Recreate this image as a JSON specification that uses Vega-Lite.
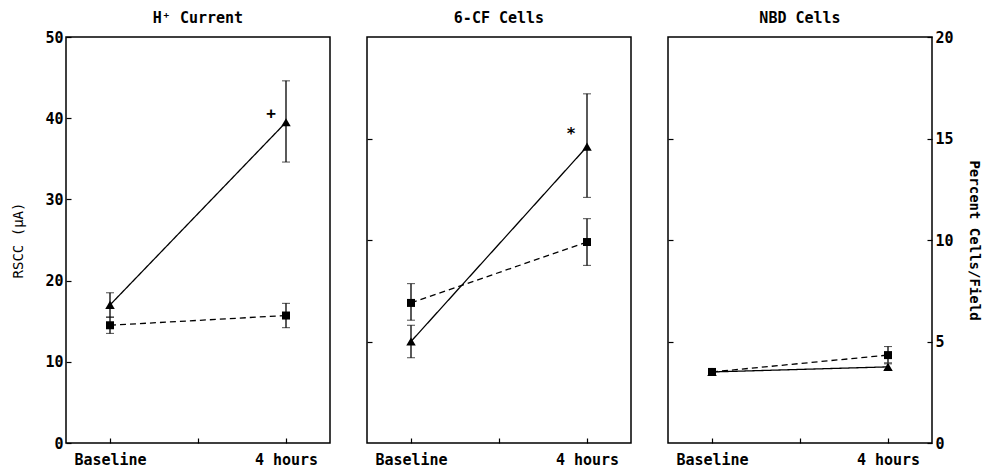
{
  "$schema": "https://vega.github.io/schema/vega-lite/v6.json",
  "background": "white",
  "padding": {"left": 11, "top": 10, "right": 6, "bottom": 5},
  "spacing": 34,
  "datasets": {
    "pts": [
      {"panel": "H", "series": "tri", "time": "Baseline", "mean": 17.0, "lo": 15.5, "hi": 18.5},
      {"panel": "H", "series": "tri", "time": "4 hours", "mean": 39.5, "lo": 34.6, "hi": 44.6},
      {"panel": "H", "series": "sq", "time": "Baseline", "mean": 14.5, "lo": 13.5, "hi": 15.5},
      {"panel": "H", "series": "sq", "time": "4 hours", "mean": 15.7, "lo": 14.2, "hi": 17.2},
      {"panel": "CF", "series": "tri", "time": "Baseline", "mean": 5.0, "lo": 4.2, "hi": 5.8},
      {"panel": "CF", "series": "tri", "time": "4 hours", "mean": 14.6, "lo": 12.1, "hi": 17.2},
      {"panel": "CF", "series": "sq", "time": "Baseline", "mean": 6.9, "lo": 6.05, "hi": 7.85},
      {"panel": "CF", "series": "sq", "time": "4 hours", "mean": 9.9, "lo": 8.75, "hi": 11.05},
      {"panel": "NBD", "series": "tri", "time": "Baseline", "mean": 3.5, "lo": 3.45, "hi": 3.55},
      {"panel": "NBD", "series": "tri", "time": "4 hours", "mean": 3.75, "lo": 3.6, "hi": 3.9},
      {"panel": "NBD", "series": "sq", "time": "Baseline", "mean": 3.5, "lo": 3.45, "hi": 3.55},
      {"panel": "NBD", "series": "sq", "time": "4 hours", "mean": 4.33, "lo": 3.95, "hi": 4.75}
    ],
    "notes": [
      {"panel": "H", "time": "4 hours", "value": 40.5, "label": "+"},
      {"panel": "CF", "time": "4 hours", "value": 15.2, "label": "*"}
    ]
  },
  "hconcat": [
    {
      "width": 264,
      "height": 406,
      "title": {"text": "H⁺ Current", "offset": 4},
      "layer": [
        {
          "data": {"name": "pts"},
          "transform": [{"filter": "datum.panel === 'H'"}],
          "mark": {"type": "line", "color": "black", "strokeWidth": 1.3},
          "encoding": {
            "x": {"field": "time", "type": "ordinal", "title": null, "scale": {"type": "point", "domain": ["Baseline", "mid", "4 hours"], "padding": 0.5},
                  "axis": {"labelAngle": 0, "labelExpr": "datum.value === 'mid' ? '' : datum.value", "labelPadding": 14}},
            "y": {"field": "mean", "type": "quantitative", "title": "RSCC (µA)", "scale": {"domain": [0, 50], "nice": false},
                  "axis": {"values": [0, 10, 20, 30, 40, 50], "labelPadding": 8, "titlePadding": 19, "titleFontSize": 14, "titleFontWeight": "normal"}},
            "strokeDash": {"field": "series", "type": "nominal", "scale": {"domain": ["tri", "sq"], "range": [[1, 0], [6, 4]]}, "legend": null}
          }
        },
        {
          "data": {"name": "pts"},
          "transform": [{"filter": "datum.panel === 'H'"}],
          "mark": {"type": "errorbar", "color": "black", "ticks": {"size": 8, "color": "black", "strokeWidth": 1.3}, "rule": {"strokeWidth": 1.3}},
          "encoding": {
            "x": {"field": "time", "type": "ordinal", "title": null},
            "y": {"field": "lo", "type": "quantitative", "title": "RSCC (µA)"},
            "y2": {"field": "hi"},
            "detail": {"field": "series"}
          }
        },
        {
          "data": {"name": "pts"},
          "transform": [{"filter": "datum.panel === 'H'"}],
          "mark": {"type": "point", "filled": true, "color": "black", "opacity": 1},
          "encoding": {
            "x": {"field": "time", "type": "ordinal", "title": null},
            "y": {"field": "mean", "type": "quantitative", "title": "RSCC (µA)"},
            "shape": {"field": "series", "type": "nominal", "scale": {"domain": ["tri", "sq"], "range": ["triangle-up", "square"]}, "legend": null},
            "size": {"field": "series", "type": "nominal", "scale": {"domain": ["tri", "sq"], "range": [90, 64]}, "legend": null}
          }
        },
        {
          "data": {"name": "notes"},
          "transform": [{"filter": "datum.panel === 'H'"}],
          "mark": {"type": "text", "dx": -15, "font": "DejaVu Sans Mono", "fontSize": 16, "fontWeight": "bold", "color": "black"},
          "encoding": {
            "x": {"field": "time", "type": "ordinal", "title": null},
            "y": {"field": "value", "type": "quantitative", "title": "RSCC (µA)"},
            "text": {"field": "label"}
          }
        }
      ]
    },
    {
      "width": 264,
      "height": 406,
      "title": {"text": "6-CF Cells", "offset": 11},
      "layer": [
        {
          "data": {"name": "pts"},
          "transform": [{"filter": "datum.panel === 'CF'"}],
          "mark": {"type": "line", "color": "black", "strokeWidth": 1.3},
          "encoding": {
            "x": {"field": "time", "type": "ordinal", "title": null, "scale": {"type": "point", "domain": ["Baseline", "mid", "4 hours"], "padding": 0.5},
                  "axis": {"labelAngle": 0, "labelExpr": "datum.value === 'mid' ? '' : datum.value", "labelPadding": 14}},
            "y": {"field": "mean", "type": "quantitative", "title": null, "scale": {"domain": [0, 20], "nice": false},
                  "axis": {"values": [5, 10, 15], "labels": false}},
            "strokeDash": {"field": "series", "type": "nominal", "scale": {"domain": ["tri", "sq"], "range": [[1, 0], [6, 4]]}, "legend": null}
          }
        },
        {
          "data": {"name": "pts"},
          "transform": [{"filter": "datum.panel === 'CF'"}],
          "mark": {"type": "errorbar", "color": "black", "ticks": {"size": 8, "color": "black", "strokeWidth": 1.3}, "rule": {"strokeWidth": 1.3}},
          "encoding": {
            "x": {"field": "time", "type": "ordinal", "title": null},
            "y": {"field": "lo", "type": "quantitative", "title": null},
            "y2": {"field": "hi"},
            "detail": {"field": "series"}
          }
        },
        {
          "data": {"name": "pts"},
          "transform": [{"filter": "datum.panel === 'CF'"}],
          "mark": {"type": "point", "filled": true, "color": "black", "opacity": 1},
          "encoding": {
            "x": {"field": "time", "type": "ordinal", "title": null},
            "y": {"field": "mean", "type": "quantitative", "title": null},
            "shape": {"field": "series", "type": "nominal", "scale": {"domain": ["tri", "sq"], "range": ["triangle-up", "square"]}, "legend": null},
            "size": {"field": "series", "type": "nominal", "scale": {"domain": ["tri", "sq"], "range": [90, 64]}, "legend": null}
          }
        },
        {
          "data": {"name": "notes"},
          "transform": [{"filter": "datum.panel === 'CF'"}],
          "mark": {"type": "text", "dx": -16, "font": "DejaVu Sans Mono", "fontSize": 16, "fontWeight": "bold", "color": "black"},
          "encoding": {
            "x": {"field": "time", "type": "ordinal", "title": null},
            "y": {"field": "value", "type": "quantitative", "title": null},
            "text": {"field": "label"}
          }
        }
      ]
    },
    {
      "width": 264,
      "height": 406,
      "title": {"text": "NBD Cells", "offset": 4},
      "resolve": {"axis": {"y": "independent"}},
      "layer": [
        {
          "layer": [
            {
              "data": {"name": "pts"},
              "transform": [{"filter": "datum.panel === 'NBD'"}],
              "mark": {"type": "line", "color": "black", "strokeWidth": 1.3},
              "encoding": {
                "x": {"field": "time", "type": "ordinal", "title": null, "scale": {"type": "point", "domain": ["Baseline", "mid", "4 hours"], "padding": 0.5},
                      "axis": {"labelAngle": 0, "labelExpr": "datum.value === 'mid' ? '' : datum.value", "labelPadding": 14}},
                "y": {"field": "mean", "type": "quantitative", "title": null, "scale": {"domain": [0, 20], "nice": false},
                      "axis": {"orient": "left", "values": [5, 10, 15], "labels": false}},
                "strokeDash": {"field": "series", "type": "nominal", "scale": {"domain": ["tri", "sq"], "range": [[1, 0], [6, 4]]}, "legend": null}
              }
            },
            {
              "data": {"name": "pts"},
              "transform": [{"filter": "datum.panel === 'NBD'"}],
              "mark": {"type": "errorbar", "color": "black", "ticks": {"size": 8, "color": "black", "strokeWidth": 1.3}, "rule": {"strokeWidth": 1.3}},
              "encoding": {
                "x": {"field": "time", "type": "ordinal", "title": null},
                "y": {"field": "lo", "type": "quantitative", "title": null},
                "y2": {"field": "hi"},
                "detail": {"field": "series"}
              }
            }
          ]
        },
        {
          "data": {"name": "pts"},
          "transform": [{"filter": "datum.panel === 'NBD'"}],
          "mark": {"type": "point", "filled": true, "color": "black", "opacity": 1},
          "encoding": {
            "x": {"field": "time", "type": "ordinal", "title": null},
            "y": {"field": "mean", "type": "quantitative", "title": "Percent Cells/Field", "scale": {"domain": [0, 20], "nice": false},
                  "axis": {"orient": "right", "values": [0, 5, 10, 15, 20], "labelPadding": 8, "titlePadding": 13, "titleFontSize": 14, "titleFontWeight": "bold"}},
            "shape": {"field": "series", "type": "nominal", "scale": {"domain": ["tri", "sq"], "range": ["triangle-up", "square"]}, "legend": null},
            "size": {"field": "series", "type": "nominal", "scale": {"domain": ["tri", "sq"], "range": [90, 64]}, "legend": null}
          }
        }
      ]
    }
  ],
  "config": {
    "view": {"stroke": "black", "strokeWidth": 1.5},
    "axis": {
      "domain": false,
      "grid": false,
      "ticks": true,
      "tickSize": -5,
      "tickColor": "black",
      "tickWidth": 1.2,
      "labelFont": "DejaVu Sans Mono",
      "labelFontSize": 15,
      "labelFontWeight": "bold",
      "labelColor": "black",
      "titleFont": "DejaVu Sans Mono",
      "titleColor": "black"
    },
    "title": {"font": "DejaVu Sans Mono", "fontSize": 15, "fontWeight": "bold", "color": "black", "frame": "group", "anchor": "middle", "offset": 8}
  }
}
